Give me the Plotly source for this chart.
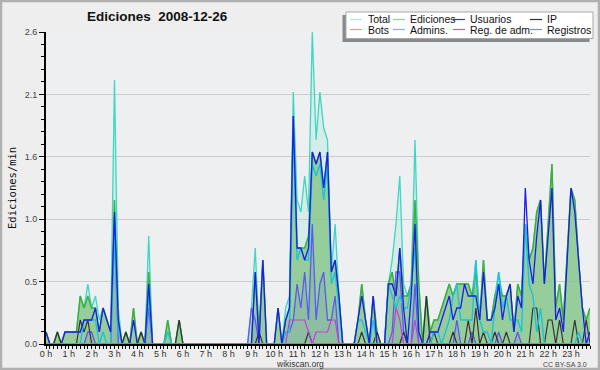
import plotly.graph_objects as go

# ---------------- data (edits per 10-minute slot, i.e. tenths of edits/min) ----------------
hours = list(range(24))
hour_labels = [f"{h} h" for h in hours]
y_tick_values = [0, 0.52, 1.04, 1.56, 2.08, 2.6]
y_tick_labels = ["0.0", "0.5", "1.0", "1.6", "2.1", "2.6"]

total = [
    1, 0, 0, 1, 0, 1,   1, 1, 1, 4, 3, 5,   3, 4, 2, 3, 2, 1,   22, 3, 0, 1, 0, 3,
    0, 1, 0, 9, 0, 0,   0, 0, 2, 0, 0, 2,   0, 0, 0, 0, 0, 0,   0, 0, 0, 0, 0, 0,
    0, 0, 0, 0, 0, 0,   3, 8, 1, 7, 0, 0,   0, 3, 0, 3, 4, 21,  12, 11, 14, 11, 26, 17,
    21, 18, 17, 6, 10, 4,  0, 0, 0, 0, 2, 5,  2, 0, 4, 1, 0, 0,  5, 7, 10, 14, 5, 4,
    5, 17, 5, 0, 4, 1,  2, 2, 3, 4, 5, 4,   5, 5, 5, 5, 4, 7,   2, 7, 2, 2, 4, 6,
    4, 4, 5, 1, 5, 4,   10, 7, 8, 11, 12, 5,  10, 15, 3, 5, 2, 8,  13, 12, 7, 3, 2, 3,
]
ediciones = [
    1, 0, 0, 1, 0, 1,   1, 1, 1, 4, 3, 4,   3, 3, 1, 3, 2, 1,   12, 2, 0, 1, 0, 3,
    0, 1, 0, 6, 0, 0,   0, 0, 2, 0, 0, 2,   0, 0, 0, 0, 0, 0,   0, 0, 0, 0, 0, 0,
    0, 0, 0, 0, 0, 0,   0, 6, 1, 7, 0, 0,   0, 3, 0, 2, 3, 19,  8, 8, 8, 9, 16, 15,
    16, 13, 16, 6, 7, 4,  0, 0, 0, 0, 2, 5,  2, 0, 4, 1, 0, 0,  5, 6, 4, 8, 4, 4,
    5, 12, 5, 0, 4, 1,  2, 2, 3, 4, 5, 4,   5, 5, 5, 5, 4, 6,   2, 7, 2, 2, 4, 5,
    4, 4, 5, 1, 5, 4,   10, 7, 8, 11, 12, 5,  10, 15, 3, 5, 2, 8,  13, 12, 7, 3, 2, 3,
]
usuarios = [
    1, 0, 0, 0, 0, 1,   1, 1, 1, 1, 2, 2,   2, 3, 1, 3, 2, 1,   11, 2, 0, 0, 0, 2,
    0, 0, 0, 5, 0, 0,   0, 0, 0, 0, 0, 0,   0, 0, 0, 0, 0, 0,   0, 0, 0, 0, 0, 0,
    0, 0, 0, 0, 0, 0,   0, 6, 0, 7, 0, 0,   0, 3, 0, 2, 3, 19,  8, 8, 7, 8, 16, 15,
    16, 13, 16, 6, 7, 4,  0, 0, 0, 0, 2, 4,  2, 0, 4, 0, 0, 0,  5, 5, 4, 8, 3, 0,
    4, 10, 1, 0, 0, 1,  1, 1, 2, 3, 4, 2,   3, 3, 5, 4, 4, 4,   2, 6, 2, 2, 3, 5,
    2, 4, 5, 1, 4, 3,   13, 7, 5, 9, 12, 5,  9, 13, 2, 3, 1, 7,  13, 11, 7, 3, 0, 1,
]
ip = [
    0, 0, 0, 1, 0, 0,   0, 0, 0, 2, 1, 2,   0, 0, 0, 0, 0, 0,   0, 0, 0, 1, 0, 0,
    0, 1, 0, 0, 0, 0,   0, 0, 0, 0, 0, 2,   0, 0, 0, 0, 0, 0,   0, 0, 0, 0, 0, 0,
    0, 0, 0, 0, 0, 0,   0, 0, 1, 0, 0, 0,   0, 0, 0, 0, 0, 0,   0, 0, 0, 1, 0, 0,
    0, 0, 0, 0, 0, 0,   0, 0, 0, 0, 0, 1,   0, 0, 0, 1, 0, 0,   0, 0, 0, 0, 1, 0,
    0, 0, 0, 0, 4, 0,   1, 0, 0, 0, 0, 1,   0, 0, 0, 2, 0, 3,   0, 1, 0, 0, 1, 0,
    0, 1, 0, 0, 0, 0,   0, 0, 3, 3, 0, 0,   2, 2, 0, 2, 0, 0,   0, 2, 0, 0, 2, 0,
]
admins = [
    0, 0, 0, 0, 0, 0,   0, 0, 0, 0, 2, 2,   2, 2, 0, 1, 0, 0,   9, 1, 0, 0, 0, 0,
    0, 0, 0, 4, 0, 0,   0, 0, 1, 0, 0, 0,   0, 0, 0, 0, 0, 0,   0, 0, 0, 0, 0, 0,
    0, 0, 0, 0, 0, 0,   0, 0, 0, 0, 0, 0,   0, 0, 0, 1, 1, 18,  7, 8, 7, 7, 15, 14,
    15, 12, 15, 5, 6, 3,  0, 0, 0, 0, 2, 2,  1, 0, 2, 0, 0, 0,  5, 4, 3, 4, 3, 3,
    5, 8, 1, 0, 0, 0,   1, 1, 0, 1, 2, 4,   5, 2, 2, 2, 2, 7,   2, 1, 1, 0, 3, 6,
    3, 4, 2, 2, 2, 1,   10, 5, 4, 1, 3, 0,  0, 0, 0, 0, 0, 0,   0, 0, 1, 0, 0, 0,
]
registros = [
    0, 0, 0, 0, 0, 0,   0, 0, 0, 0, 0, 1,   1, 0, 0, 0, 0, 0,   10, 0, 0, 0, 0, 0,
    0, 0, 0, 3, 0, 0,   0, 0, 0, 0, 0, 0,   0, 0, 0, 0, 0, 0,   0, 0, 0, 0, 0, 0,
    0, 0, 0, 0, 0, 0,   3, 2, 0, 0, 0, 0,   0, 0, 0, 1, 1, 2,   5, 3, 6, 2, 10, 2,
    5, 6, 2, 2, 4, 0,   0, 0, 0, 0, 0, 0,   0, 0, 0, 0, 0, 0,   0, 1, 6, 6, 1, 0,
    0, 5, 0, 0, 0, 0,   0, 0, 0, 0, 0, 0,   2, 0, 0, 0, 1, 0,   0, 0, 0, 0, 0, 1,
    0, 0, 0, 0, 1, 0,   0, 0, 0, 0, 0, 0,   0, 0, 0, 0, 0, 0,   0, 0, 0, 0, 0, 0,
]
reg_adm = [
    0, 0, 0, 0, 0, 0,   0, 0, 0, 0, 0, 0,   0, 0, 0, 0, 0, 0,   0, 0, 0, 0, 0, 0,
    0, 0, 0, 0, 0, 0,   0, 0, 0, 0, 0, 0,   0, 0, 0, 0, 0, 0,   0, 0, 0, 0, 0, 0,
    0, 0, 0, 0, 0, 0,   0, 0, 0, 0, 0, 0,   0, 0, 0, 0, 2, 2,   2, 2, 2, 1, 0, 1,
    1, 1, 1, 2, 2, 0,   0, 0, 0, 0, 0, 0,   0, 0, 0, 0, 0, 0,   0, 0, 3, 2, 0, 0,
    0, 2, 0, 0, 0, 0,   0, 0, 0, 0, 0, 0,   0, 0, 0, 0, 0, 0,   0, 0, 0, 0, 0, 0,
    0, 0, 0, 0, 0, 0,   0, 0, 0, 0, 0, 0,   0, 0, 0, 0, 0, 0,   0, 0, 0, 0, 0, 0,
]
bots = [0] * 144

legend_names = [["Total", "Ediciones", "Usuarios", "IP"],
                ["Bots", "Admins.", "Reg. de adm.", "Registros"]]

# ---------------- layout geometry ----------------
W, H = 600, 370
ML, MR, MT, MB = 46, 10, 32, 26
PW, PH = W - ML - MR, H - MT - MB


def px(x):
    return (x - ML) / PW


def py(y):
    return (H - MB - y) / PH


x = [i / 6 for i in range(144)]


def per_min(vals):
    return [v / 10 for v in vals]


C_TOTAL = "#3fd6c4"
C_EDIC = "#3fae3f"
C_USU = "#1c1cec"
C_IP = "#333333"
C_BOTS = "#f59a2a"
C_ADM = "#1fc2d8"
C_REGADM = "#c03fdc"
C_REG = "#5a5af0"

fig = go.Figure()
fig.add_trace(go.Scatter(x=x, y=per_min(total), mode="lines", name="Total",
                         line=dict(color=C_TOTAL, width=1.3), fill="tozeroy",
                         fillcolor="rgba(150,230,210,0.28)", showlegend=False))
fig.add_trace(go.Scatter(x=x, y=per_min(ediciones), mode="lines", name="Ediciones",
                         line=dict(color=C_EDIC, width=1.5), fill="tozeroy",
                         fillcolor="rgba(125,192,125,0.72)", showlegend=False))
fig.add_trace(go.Scatter(x=x, y=per_min(registros), mode="lines", name="Registros",
                         line=dict(color=C_REG, width=1.3), fill="tozeroy",
                         fillcolor="rgba(100,100,200,0.14)", showlegend=False))
fig.add_trace(go.Scatter(x=x, y=per_min(ip), mode="lines", name="IP",
                         line=dict(color=C_IP, width=1.2), showlegend=False))
fig.add_trace(go.Scatter(x=x, y=per_min(admins), mode="lines", name="Admins.",
                         line=dict(color=C_ADM, width=1.4), showlegend=False))
fig.add_trace(go.Scatter(x=x, y=per_min(usuarios), mode="lines", name="Usuarios",
                         line=dict(color=C_USU, width=1.3), showlegend=False))
fig.add_trace(go.Scatter(x=x, y=per_min(reg_adm), mode="lines", name="Reg. de adm.",
                         line=dict(color=C_REGADM, width=1.2), showlegend=False))
fig.add_trace(go.Scatter(x=x, y=per_min(bots), mode="lines", name="Bots",
                         line=dict(color=C_BOTS, width=1.0), showlegend=False))

# ---------------- shapes: frame and legend box ----------------
shapes = []
shapes.append(dict(type="rect", xref="paper", yref="paper",
                   x0=px(1), x1=px(599), y0=py(1), y1=py(369),
                   line=dict(color="#b0b0b0", width=2.5), fillcolor="rgba(0,0,0,0)",
                   layer="above"))
# legend shadow + box
shapes.append(dict(type="rect", xref="paper", yref="paper",
                   x0=px(342.5), x1=px(589.5), y0=py(15), y1=py(42),
                   line=dict(width=0), fillcolor="#8a8a8a", layer="above"))
shapes.append(dict(type="rect", xref="paper", yref="paper",
                   x0=px(346), x1=px(593), y0=py(12), y1=py(38.5),
                   line=dict(color="#a8a8a8", width=1), fillcolor="#ffffff", layer="above"))

legend_colors = [["#a8e6de", "#8ed28e", "#3434d6", "#303030"],
                 ["#f2a040", "#4ecfd8", "#d24ee2", "#8282f0"]]
col_line_x = [350, 393, 453, 530]
col_text_x = [366, 408, 468, 545]
row_y = [19.5, 29.5]

annotations = []
for r in range(2):
    for c in range(4):
        shapes.append(dict(type="line", xref="paper", yref="paper",
                           x0=px(col_line_x[c]), x1=px(col_line_x[c] + 12),
                           y0=py(row_y[r]), y1=py(row_y[r]),
                           line=dict(color=legend_colors[r][c], width=1.2), layer="above"))
        annotations.append(dict(text=legend_names[r][c], xref="paper", yref="paper",
                                x=px(col_text_x[c]), y=py(row_y[r]), xanchor="left",
                                yanchor="middle", showarrow=False,
                                font=dict(family="Liberation Sans", size=10.5, color="#111111")))

annotations.append(dict(text="<b>Ediciones\u00a0 2008-12-26</b>", xref="paper", yref="paper",
                        x=px(85), y=py(17), xanchor="left", yanchor="middle", showarrow=False,
                        font=dict(family="Liberation Sans", size=13.5, color="#111111")))
annotations.append(dict(text="Ediciones/min", xref="paper", yref="paper",
                        x=px(12), y=py(188), xanchor="center", yanchor="middle",
                        textangle=-90, showarrow=False,
                        font=dict(family="DejaVu Sans Mono", size=10.5, color="#111111")))
annotations.append(dict(text="wikiscan.org", xref="paper", yref="paper",
                        x=px(300), y=py(364), xanchor="center", yanchor="middle", showarrow=False,
                        font=dict(family="Liberation Sans", size=8.5, color="#333333")))
annotations.append(dict(text="CC BY-SA 3.0", xref="paper", yref="paper",
                        x=px(589), y=py(364), xanchor="right", yanchor="middle", showarrow=False,
                        font=dict(family="Liberation Sans", size=7, color="#444444")))

fig.update_layout(
    width=W, height=H,
    margin=dict(l=ML, r=MR, t=MT, b=MB, pad=0),
    paper_bgcolor="#eeeeee",
    plot_bgcolor="#edeff1",
    showlegend=False,
    shapes=shapes,
    annotations=annotations,
    xaxis=dict(range=[0, 143 / 6], tickmode="array", tickvals=hours, ticktext=hour_labels,
               ticks="outside", ticklen=3, tickwidth=1, tickcolor="#000000",
               ticklabelstandoff=-3,
               showline=True, linecolor="#000000", linewidth=2,
               showgrid=False, zeroline=False,
               tickfont=dict(family="Liberation Sans", size=9, color="#333333"),
               minor=dict(dtick=1 / 6, tick0=0, ticks="outside", ticklen=3,
                          tickwidth=1, tickcolor="#000000", showgrid=False)),
    yaxis=dict(range=[0, 2.6], tickmode="array", tickvals=y_tick_values, ticktext=y_tick_labels,
               ticks="outside", ticklen=5, tickwidth=1, tickcolor="#000000",
               showline=True, linecolor="#000000", linewidth=2,
               showgrid=True, gridcolor="#cccccc", gridwidth=1, zeroline=False,
               tickfont=dict(family="Liberation Sans", size=9, color="#444444"),
               minor=dict(dtick=0.104, tick0=0, ticks="outside", ticklen=3,
                          tickwidth=1, tickcolor="#000000", showgrid=False)),
)

fig.write_html(
    "out.html",
    config={"displayModeBar": False},
    post_script="document.body.style.margin='0';document.body.style.padding='0';"
                "document.documentElement.style.overflow='hidden';",
)
